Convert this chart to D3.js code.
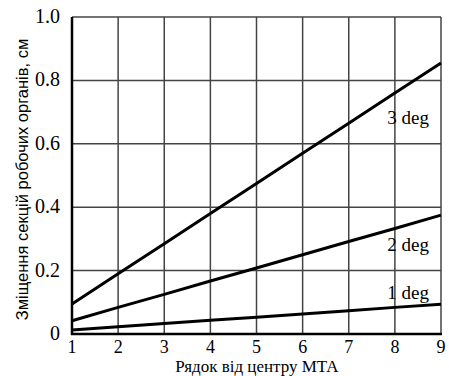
<!DOCTYPE html>
<html><head><meta charset="utf-8">
<script src="https://cdn.jsdelivr.net/npm/d3@7"></script>
</head><body style="margin:0">
<svg id="c" width="449" height="376" font-family="Liberation Serif"></svg>
<script>
const rows = [1,2,3,4,5,6,7,8,9];
const deg3 = [0.095,0.19,0.285,0.38,0.475,0.57,0.665,0.76,0.855];
const deg2 = [0.042,0.084,0.125,0.167,0.208,0.25,0.292,0.333,0.375];
const deg1 = [0.013,0.023,0.033,0.043,0.053,0.063,0.073,0.084,0.094];
const seriesNames = ["3 deg","2 deg","1 deg"];
const yTicks = [0,0.2,0.4,0.6,0.8,1.0];
const yTickLabels = ["0","0.2","0.4","0.6","0.8","1.0"];
const xTitle = "Рядок від центру МТА";
const yTitle = "Зміщення секцій робочих органів, см";

const svg = d3.select("#c");
const L=72, R=441, T=17, B=334;
const x = d3.scaleLinear().domain([1,9]).range([L,R]);
const y = d3.scaleLinear().domain([0,1]).range([B,T]);

// grid
svg.append("g").selectAll("line").data(rows).join("line")
  .attr("x1",d=>x(d)).attr("x2",d=>x(d)).attr("y1",y(0)).attr("y2",y(1))
  .attr("stroke","#444").attr("stroke-width",1.5);
svg.append("g").selectAll("line").data(yTicks).join("line")
  .attr("x1",x(1)).attr("x2",x(9)).attr("y1",d=>y(d)).attr("y2",d=>y(d))
  .attr("stroke","#444").attr("stroke-width",1.5);

// axes
svg.append("line").attr("x1",x(1)).attr("x2",x(1)).attr("y1",y(0)+1).attr("y2",y(1))
  .attr("stroke","#000").attr("stroke-width",2.5);
svg.append("line").attr("x1",x(1)-1).attr("x2",x(9)+1).attr("y1",y(0)).attr("y2",y(0))
  .attr("stroke","#000").attr("stroke-width",2.5);

// tick labels
rows.forEach(d=>{
  svg.append("text").attr("x",x(d)).attr("y",353).attr("text-anchor","middle")
    .style("font-family",'"Liberation Serif"').attr("font-size",18).text(d);
});
yTicks.forEach((d,i)=>{
  svg.append("text").attr("x",60).attr("y",y(d)+6).attr("text-anchor","end")
    .style("font-family",'"Liberation Serif"').attr("font-size",20).text(yTickLabels[i]);
});

// lines
const line = d3.line().x((d,i)=>x(rows[i])).y(d=>y(d));
[deg3,deg2,deg1].forEach(s=>{
  svg.append("path").attr("d",line(s)).attr("fill","none")
    .attr("stroke","#000").attr("stroke-width",3);
});

// labels
const labY = [0.68,0.28,0.13];
seriesNames.forEach((n,i)=>{
  svg.append("text").attr("x",429).attr("y",y(labY[i])+6).attr("text-anchor","end")
    .style("font-family",'"Liberation Serif"').attr("font-size",19).text(n);
});

// titles
svg.append("text").attr("x",257).attr("y",372).attr("text-anchor","middle")
  .style("font-family",'"Liberation Serif"').attr("font-size",17).text(xTitle);
svg.append("text").attr("transform","translate(28,"+((T+B)/2+4)+") rotate(-90)")
  .attr("text-anchor","middle").style("font-family",'"Liberation Sans"')
  .attr("font-size",16.5).text(yTitle);
</script>
</body></html>
